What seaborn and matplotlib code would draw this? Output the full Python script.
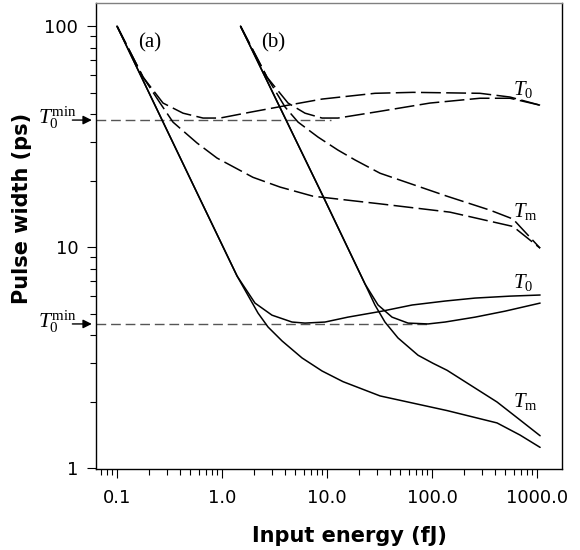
"""
Pulse width vs input energy (log-log), two launch conditions (a) and (b).
Solid = T0 / Tm for the short case, dashed = same for the long case.
"""

import numpy as np
import matplotlib
matplotlib.use("Agg")
import matplotlib.pyplot as plt
import matplotlib.ticker as mticker
import seaborn as sns

# ============================================================
# Data (energy in fJ, width in ps)
# ============================================================
# (a) solid
a_t0_x = [0.1, 0.617, 1.39, 2.06, 2.99, 4.64, 6.17, 9.57, 15.8, 33.4, 64.6, 133, 257, 553, 1070]
a_t0_y = [100, 16.5, 7.40, 5.58, 4.92, 4.58, 4.53, 4.58, 4.82, 5.13, 5.47, 5.70, 5.88, 6.00, 6.07]
a_tm_x = [0.1, 0.617, 1.39, 2.20, 2.74, 3.73, 5.78, 8.96, 14.2, 32.0, 139, 416, 689, 1070]
a_tm_y = [100, 16.5, 7.40, 5.03, 4.35, 3.76, 3.15, 2.75, 2.46, 2.12, 1.82, 1.60, 1.41, 1.24]

# (b) solid
b_t0_x = [1.5, 9.16, 23.0, 30.6, 41.6, 59.1, 91.6, 133, 257, 496, 1070]
b_t0_y = [100, 17.0, 6.81, 5.47, 4.82, 4.53, 4.49, 4.58, 4.82, 5.13, 5.58]
b_tm_x = [1.5, 9.16, 23.0, 28.6, 35.6, 47.4, 73.6, 102, 139, 416, 689, 1070]
b_tm_y = [100, 17.0, 6.81, 5.47, 4.58, 3.88, 3.24, 2.98, 2.77, 1.99, 1.65, 1.40]

# (a) dashed
a_t0_dash_x = [0.1, 0.177, 0.274, 0.425, 0.659, 0.957, 1.85, 4.25, 8.96, 28.6, 65.9, 286, 553, 1070]
a_t0_dash_y = [100, 58.8, 44.9, 40.4, 38.4, 38.4, 40.8, 43.9, 46.8, 49.7, 50.2, 49.7, 47.8, 43.9]
a_tm_dash_x = [0.1, 0.177, 0.257, 0.341, 0.578, 0.896, 1.97, 3.57, 7.36, 32.0, 148, 591, 1070]
a_tm_dash_y = [100, 58.8, 44.9, 36.8, 29.6, 25.3, 20.7, 18.7, 17.0, 15.7, 14.4, 12.4, 9.89]

# (b) dashed
b_t0_dash_x = [1.5, 2.68, 4.25, 6.17, 8.96, 12.7, 32.0, 95.7, 286, 553, 1070]
b_t0_dash_y = [100, 58.8, 44.9, 40.4, 38.4, 38.4, 41.2, 44.9, 47.2, 47.2, 43.9]
b_tm_dash_x = [1.5, 2.68, 3.98, 5.30, 8.20, 12.7, 18.5, 32.0, 139, 357, 591, 1070]
b_tm_dash_y = [100, 58.8, 43.1, 36.8, 31.5, 27.5, 24.8, 21.6, 17.0, 14.7, 13.4, 9.89]

# minimum T0 reference levels and where their guide lines stop
t0min_levels = [37.6, 4.49]
t0min_ends = [11.0, 95.0]

x_ticks = [0.1, 1, 10, 100, 1000]
x_tick_labels = ["0.1", "1.0", "10.0", "100.0", "1000.0"]
y_ticks = [1, 10, 100]
y_tick_labels = ["1", "10", "100"]


def main():
    sns.set_style("ticks")
    plt.rcParams["font.family"] = ["DejaVu Sans"]
    plt.rcParams["mathtext.fontset"] = "custom"
    plt.rcParams["mathtext.rm"] = "Liberation Serif"
    plt.rcParams["mathtext.it"] = "Liberation Serif:italic"
    plt.rcParams["text.color"] = "black"
    plt.rcParams["axes.labelcolor"] = "black"

    fig = plt.figure(figsize=(5.8, 5.5), dpi=100)
    ax = fig.add_axes([0.1655, 0.1473, 0.8035, 0.8467])
    ax.set_xscale("log")
    ax.set_yscale("log")

    xlim = (0.063, 1730)

    # guide lines for T0 min
    for lvl, xend in zip(t0min_levels, t0min_ends):
        sns.lineplot(x=[xlim[0], xend], y=[lvl, lvl], ax=ax, color="#555555",
                     linewidth=1.0, linestyle=(0, (7, 3.5)), estimator=None, sort=False)

    # solid curves
    for xs, ys in [(a_t0_x, a_t0_y), (a_tm_x, a_tm_y), (b_t0_x, b_t0_y), (b_tm_x, b_tm_y)]:
        sns.lineplot(x=xs, y=ys, ax=ax, color="black", linewidth=1.1,
                     estimator=None, sort=False)

    # dashed curves
    for xs, ys in [(a_t0_dash_x, a_t0_dash_y), (a_tm_dash_x, a_tm_dash_y),
                   (b_t0_dash_x, b_t0_dash_y), (b_tm_dash_x, b_tm_dash_y)]:
        sns.lineplot(x=xs, y=ys, ax=ax, color="black", linewidth=1.1,
                     linestyle=(0, (13, 3.5)), estimator=None, sort=False)

    ax.set_xlim(*xlim)
    ax.set_ylim(0.99, 127)

    # ticks
    ax.set_xticks(x_ticks)
    ax.set_xticklabels(x_tick_labels)
    ax.set_yticks(y_ticks)
    ax.set_yticklabels(y_tick_labels)
    for axis in (ax.xaxis, ax.yaxis):
        axis.set_minor_locator(mticker.LogLocator(base=10, subs=np.arange(2, 10), numticks=20))
        axis.set_minor_formatter(mticker.NullFormatter())
    ax.tick_params(which="major", direction="out", length=6.7, width=0.8,
                   color="black", labelsize=13, labelcolor="black")
    ax.tick_params(which="minor", direction="out", length=4, width=0.8, color="black")
    ax.tick_params(axis="x", which="major", pad=8)
    ax.tick_params(axis="y", which="major", pad=6)

    for side in ["left", "bottom", "right"]:
        ax.spines[side].set_color("black")
        ax.spines[side].set_linewidth(1.0)
    ax.spines["top"].set_color("#808080")
    ax.spines["top"].set_linewidth(1.0)

    ax.set_xlabel("Input energy (fJ)", fontsize=15, fontweight="bold", color="black")
    ax.set_ylabel("Pulse width (ps)", fontsize=15, fontweight="bold", color="black")
    ax.xaxis.set_label_coords(0.543, -0.122)
    ax.yaxis.set_label_coords(-0.137, 0.56)

    # panel tags
    ax.text(0.206, 83.8, "(a)", fontsize=15, family="Liberation Serif", ha="center", va="center")
    ax.text(3.06, 83.8, "(b)", fontsize=15, family="Liberation Serif", ha="center", va="center")

    # curve labels
    ax.text(591, 49.0, r"$T_{\rm 0}$", fontsize=15, ha="left", va="baseline")
    ax.text(591, 13.7, r"$T_{\rm m}$", fontsize=15, ha="left", va="baseline")
    ax.text(591, 6.52, r"$T_{\rm 0}$", fontsize=15, ha="left", va="baseline")
    ax.text(591, 1.89, r"$T_{\rm m}$", fontsize=15, ha="left", va="baseline")

    # T0 min arrows on the left axis
    ytr = ax.get_yaxis_transform()
    for lvl in t0min_levels:
        ax.annotate("", xy=(0, lvl), xycoords=ytr, xytext=(-17, 0), textcoords="offset points",
                    arrowprops=dict(arrowstyle="-|>", color="black", lw=1.0,
                                    mutation_scale=13, shrinkA=0, shrinkB=3),
                    annotation_clip=False)
        ax.annotate(r"$T_0^{\rm min}$", xy=(0, lvl), xycoords=ytr, xytext=(-42, -2.9),
                    textcoords="offset points", fontsize=15.5, ha="left", va="baseline",
                    annotation_clip=False)

    fig.savefig("out.png", dpi=100)
    plt.close(fig)


if __name__ == "__main__":
    main()
